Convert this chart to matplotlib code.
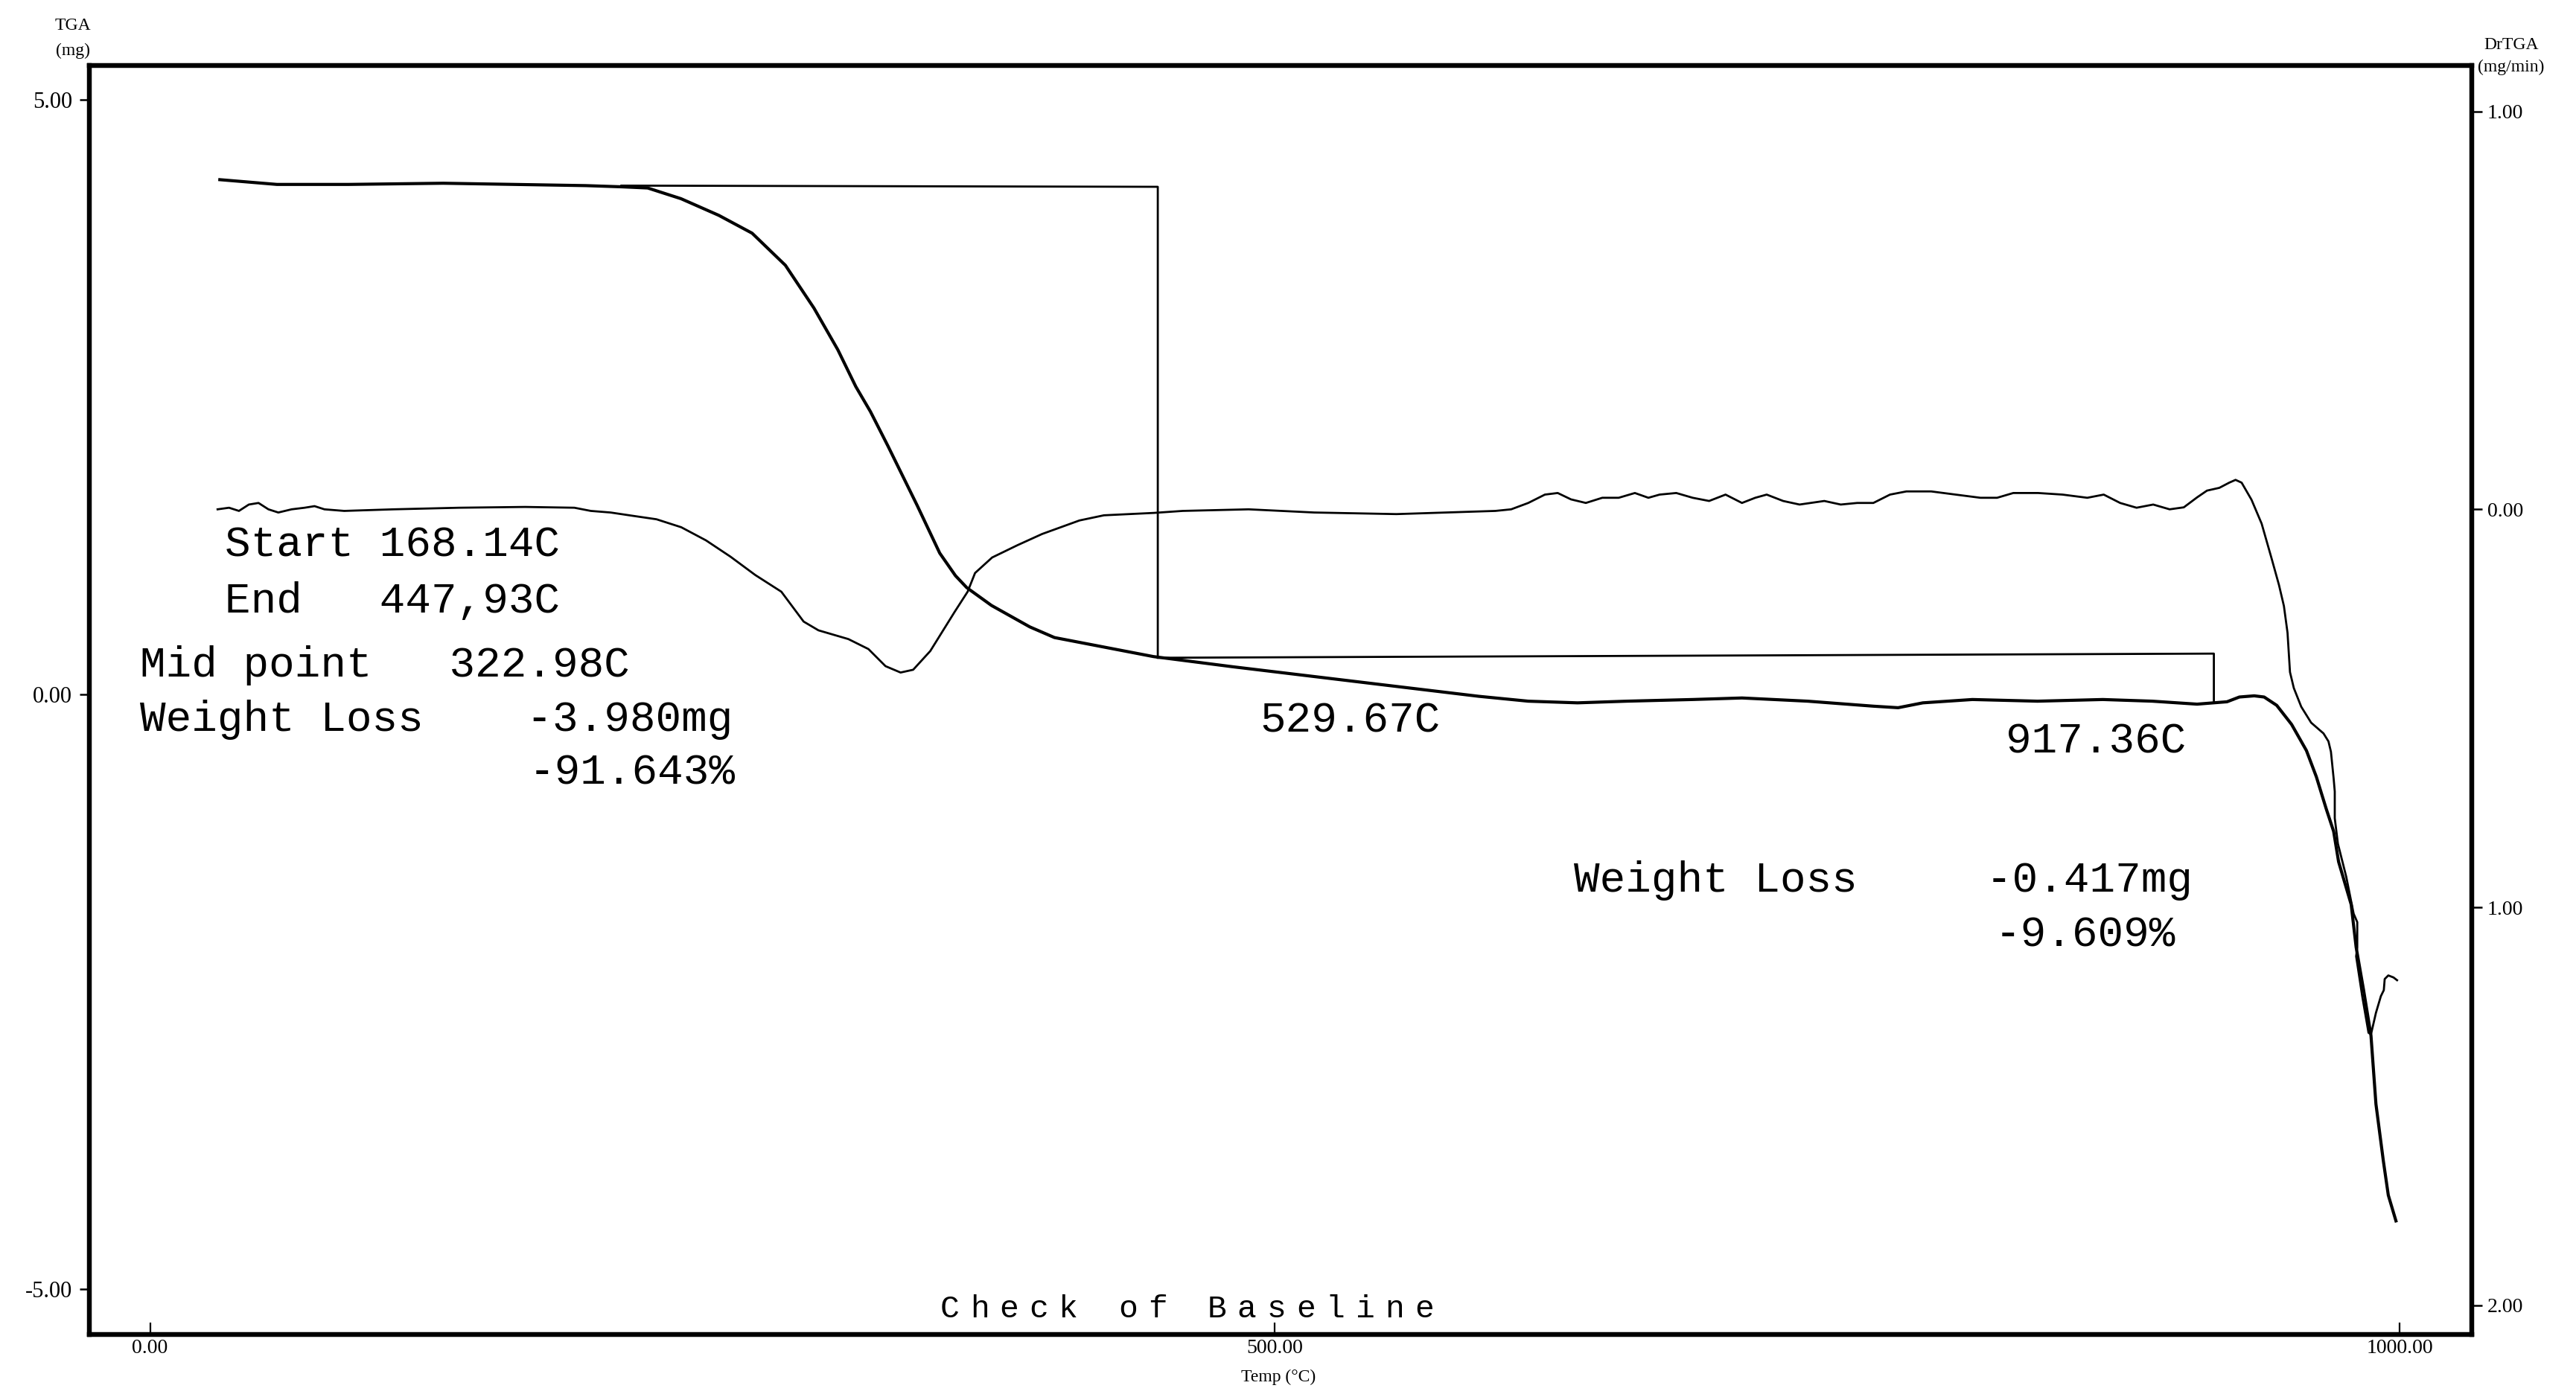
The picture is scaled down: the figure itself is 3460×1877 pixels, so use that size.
import matplotlib
matplotlib.use('Agg')
import matplotlib.pyplot as plt

# TGA curve (mg)
tga_temp = [31.0, 56.4, 88.1, 130.3, 162.0, 193.7, 209.5, 221.2, 236.0, 252.8, 267.6, 282.4,
            295.1, 305.7, 313.7, 320.2, 328.0, 341.0, 351.0, 358.0, 363.0, 374.0, 391.0, 402.0,
            424.0, 446.0, 481.0, 517.5, 554.0, 590.6, 612.6, 634.5, 656.4, 685.7, 707.6, 736.8,
            766.0, 777.0, 788.0, 810.0, 839.0, 868.0, 890.0, 909.9, 916.5, 923.2, 928.7, 935.3,
            939.7, 945.3, 951.9, 958.5, 962.9, 967.3, 970.6, 972.8, 978.4, 980.6, 983.9, 987.2,
            989.4, 992.7, 994.9, 998.3]
tga_mg = [4.33, 4.29, 4.29, 4.30, 4.29, 4.28, 4.27, 4.26, 4.17, 4.03, 3.88, 3.61,
          3.25, 2.90, 2.59, 2.38, 2.09, 1.59, 1.19, 1.00, 0.90, 0.75, 0.57, 0.48,
          0.40, 0.32, 0.235, 0.152, 0.069, -0.014, -0.055, -0.069, -0.055, -0.041, -0.028, -0.055,
          -0.097, -0.11, -0.069, -0.041, -0.055, -0.041, -0.055, -0.08, -0.07, -0.06, -0.02, -0.01,
          -0.02, -0.09, -0.25, -0.47, -0.69, -0.96, -1.15, -1.405, -1.765, -2.124, -2.483, -2.867,
          -3.442, -3.921, -4.209, -4.425]

# DrTGA curve (mg/min)
dtg_temp = [30.0, 35.1, 39.5, 43.9, 48.2, 52.6, 57.0, 62.9, 68.7, 73.1, 77.5, 86.3, 108.2, 137.4,
            166.7, 188.6, 195.9, 204.7, 214.2, 225.1, 236.1, 247.1, 258.0, 269.0, 280.6, 290.5,
            297.1, 310.4, 319.3, 326.9, 333.6, 339.2, 346.8, 357.7, 363.4, 366.7, 374.3, 385.6,
            396.5, 413.1, 424.0, 446.2, 459.0, 488.3, 517.5, 554.0, 576.0, 598.0, 605.0, 612.6,
            620.0, 625.7, 631.6, 638.2, 645.5, 652.8, 660.0, 666.0, 671.0, 678.4, 685.7, 693.0,
            700.3, 707.6, 713.5, 718.6, 725.9, 733.2, 744.2, 751.5, 758.8, 766.0, 773.4, 780.7,
            791.7, 802.6, 813.6, 821.0, 828.2, 839.2, 850.1, 861.1, 868.4, 875.7, 883.0, 890.4,
            897.7, 904.0, 909.9, 914.3, 919.8, 924.2, 927.0, 929.7, 934.1, 938.6, 943.0, 946.3,
            948.5, 950.1, 951.2, 952.9, 956.2, 960.6, 966.1, 968.3, 969.4, 970.6, 971.1, 971.1,
            972.5, 976.2, 979.5, 981.1, 981.1, 980.6, 983.3, 986.1, 987.2, 989.4, 991.6, 992.9,
            993.3, 994.9, 997.2, 998.8]
dtg_val = [0.000, 0.004, -0.004, 0.012, 0.016, 0.000, -0.008, 0.000, 0.004, 0.008, 0.000, -0.004, 0.000, 0.004,
           0.006, 0.004, -0.004, -0.008, -0.016, -0.025, -0.045, -0.078, -0.119, -0.165, -0.207, -0.282,
           -0.304, -0.326, -0.351, -0.394, -0.410, -0.403, -0.356, -0.257, -0.207, -0.160, -0.121, -0.090,
           -0.062, -0.028, -0.015, -0.009, -0.004, 0.000, -0.008, -0.012, -0.008, -0.004, 0.000, 0.016,
           0.037, 0.041, 0.025, 0.016, 0.029, 0.029, 0.041, 0.029, 0.037, 0.041, 0.029, 0.021,
           0.037, 0.016, 0.029, 0.037, 0.021, 0.012, 0.021, 0.012, 0.016, 0.016, 0.037, 0.045,
           0.045, 0.037, 0.029, 0.029, 0.041, 0.041, 0.037, 0.029, 0.037, 0.016, 0.004, 0.012,
           0.000, 0.005, 0.030, 0.047, 0.054, 0.067, 0.074, 0.067, 0.024, -0.036, -0.123, -0.190,
           -0.243, -0.310, -0.409, -0.449, -0.496, -0.536, -0.563, -0.583, -0.609, -0.676, -0.709, -0.776,
           -0.840, -0.923, -1.016, -1.037, -1.101, -1.123, -1.223, -1.315, -1.319, -1.265, -1.223, -1.208,
           -1.180, -1.171, -1.176, -1.183]

# analysis step lines (start / end of the weight-loss steps)
step1_x = [209.5, 447.93, 447.93]
step1_y = [4.28, 4.27, 0.31]
step2_x = [447.93, 917.36, 917.36]
step2_y = [0.31, 0.345, -0.07]

x_ticks = [0, 500, 1000]
x_labels = ['0.00', '500.00', '1000.00']
tga_ticks = [5, 0, -5]
tga_labels = ['5.00', '0.00', '-5.00']
dtg_ticks = [1, 0, -1, -2]
dtg_labels = ['1.00', '0.00', '1.00', '2.00']

W, H = 3460, 1877
MONO = 'Liberation Mono'
SERIF = 'Liberation Serif'


def fx(px):
    return px / W


def fy(py):
    return 1 - py / H


fig = plt.figure(figsize=(W / 100, H / 100), dpi=100)
ax = fig.add_axes([fx(120), fy(1793), (3320 - 120) / W, (1793 - 88) / H])

ax.plot(tga_temp, tga_mg, color='black', lw=3.0, solid_joinstyle='round')
ax.plot(step1_x, step1_y, color='black', lw=2.0)
ax.plot(step2_x, step2_y, color='black', lw=2.0)
ax.set_xlim(-27, 1032)
ax.set_ylim(-5.38, 5.29)

ax2 = ax.twinx()
ax2.plot(dtg_temp, dtg_val, color='black', lw=2.0, solid_joinstyle='round')
ax2.set_ylim(-2.073, 1.115)

for a in (ax, ax2):
    for s in a.spines.values():
        s.set_linewidth(4.5)
        s.set_color('black')

ax.set_xticks(x_ticks)
ax.set_xticklabels(x_labels, fontfamily=SERIF, fontsize=20)
ax.set_yticks(tga_ticks)
ax.set_yticklabels(tga_labels, fontfamily=SERIF, fontsize=22)
ax.tick_params(axis='x', direction='in', length=11.5, width=1.6, pad=4)
ax.tick_params(axis='y', direction='out', length=9.5, width=1.8, pad=7)

ax2.set_yticks(dtg_ticks)
ax2.set_yticklabels(dtg_labels, fontfamily=SERIF, fontsize=20)
ax2.tick_params(axis='y', direction='out', length=10, width=1.8, pad=5)

# axis titles
fig.text(fx(98), fy(35), 'TGA', ha='center', va='center', family=SERIF, fontsize=17)
fig.text(fx(98), fy(68), '(mg)', ha='center', va='center', family=SERIF, fontsize=17)
fig.text(fx(3373), fy(60), 'DrTGA', ha='center', va='center', family=SERIF, fontsize=17)
fig.text(fx(3373), fy(90), '(mg/min)', ha='center', va='center', family=SERIF, fontsize=17)
fig.text(fx(1717), fy(1850), 'Temp (°C)', ha='center', va='center', family=SERIF, fontsize=17)

# analysis results
notes = [
    (302, 748, 'Start 168.14C'),
    (302, 823, 'End   447,93C'),
    (188, 909, 'Mid point   322.98C'),
    (188, 982, 'Weight Loss    -3.980mg'),
    (711, 1053, '-91.643%'),
    (1692, 984, '529.67C'),
    (2694, 1011, '917.36C'),
    (2114, 1198, 'Weight Loss     -0.417mg'),
    (2680, 1271, '-9.609%'),
]
for px, py, txt in notes:
    fig.text(fx(px), fy(py), txt, ha='left', va='baseline', family=MONO, fontsize=41.5)

# wide-spaced footer, one character per slot
footer = 'Check of Baseline'
slot = (1933 - 1256) / len(footer)
for i, ch in enumerate(footer):
    fig.text(fx(1256 + slot * (i + 0.5)), fy(1770), ch, ha='center', va='baseline',
             family=MONO, fontsize=31)

fig.savefig('out.png', dpi=100)
